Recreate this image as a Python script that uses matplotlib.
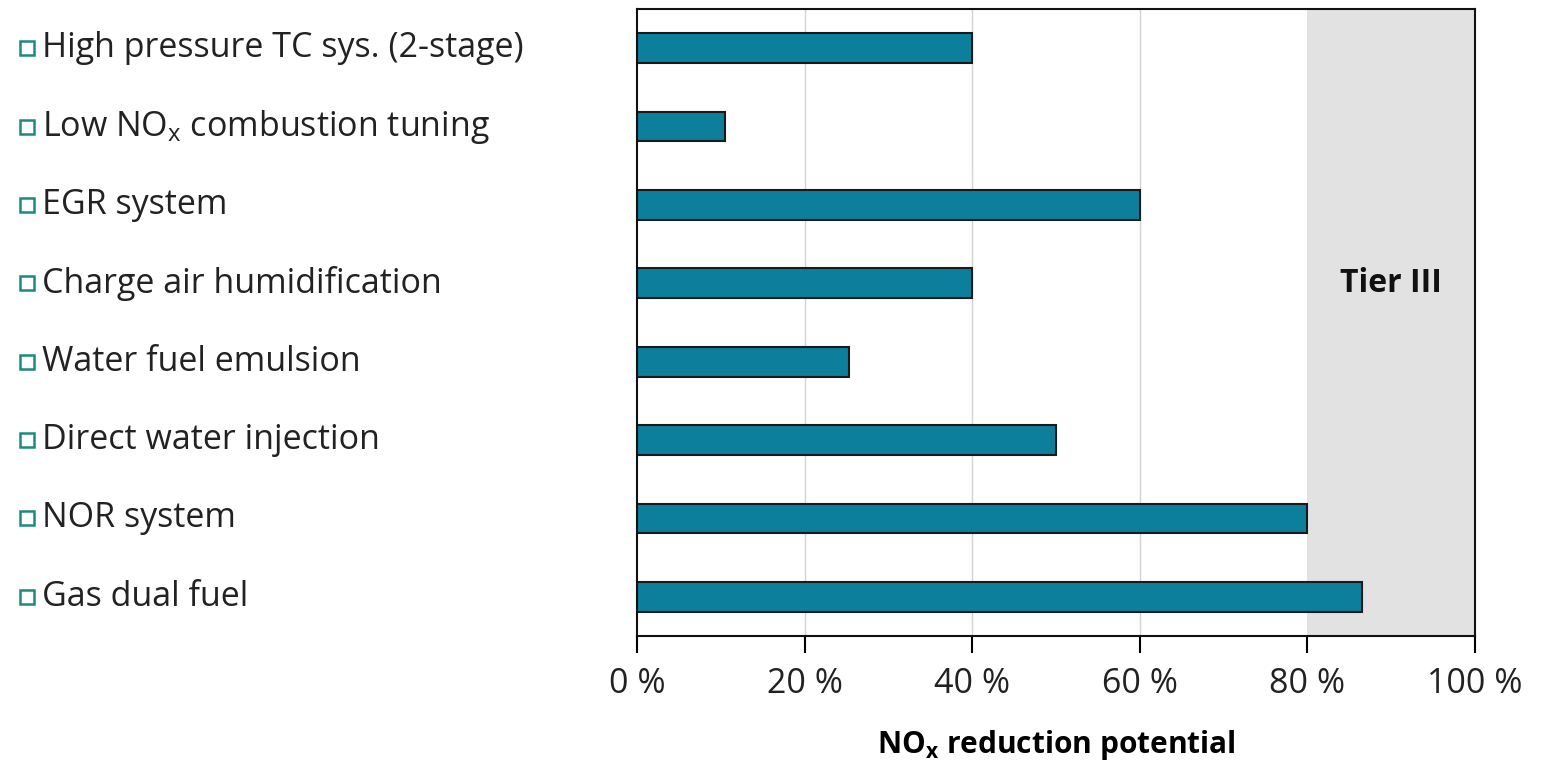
import matplotlib
matplotlib.use("Agg")
import matplotlib.pyplot as plt
import matplotlib.transforms as mtransforms

plt.rcParams["font.family"] = ["Open Sans", "DejaVu Sans"]

# --- data ---------------------------------------------------------------
measures = [
    "High pressure TC sys. (2-stage)",
    "Low NO$_\\mathregular{x}$ combustion tuning",
    "EGR system",
    "Charge air humidification",
    "Water fuel emulsion",
    "Direct water injection",
    "NOR system",
    "Gas dual fuel",
]
reduction_pct = [40, 10.5, 60, 40, 25.3, 50, 80, 86.5]
x_ticks = [0, 20, 40, 60, 80, 100]
x_tick_labels = ["0 %", "20 %", "40 %", "60 %", "80 %", "100 %"]
tier3_range = (80, 100)

BAR = "#0b7f9c"
MARK = "#1a8a7a"

fig = plt.figure(figsize=(15.45, 7.7), dpi=100)
ax = fig.add_axes([0.4123, 0.174, 0.5424, 0.8143])

ypos = list(range(len(measures)))
ax.axvspan(*tier3_range, color="#e2e2e2", zorder=0, lw=0)
for t in x_ticks[1:4]:
    ax.axvline(t, color="#d4d4d4", lw=1, zorder=0.5)
ax.barh(ypos, reduction_pct, height=0.38, color=BAR, edgecolor="#1a1a1a",
        linewidth=1.5, zorder=2)

ax.set_xlim(0, 100)
ax.set_ylim(len(measures) - 0.5, -0.5)
ax.set_yticks([])
ax.set_xticks(x_ticks)
ax.set_xticklabels(x_tick_labels, fontsize=24.5, color="#222222")
ax.tick_params(axis="x", length=12, width=1.5, pad=10, direction="out")
for s in ax.spines.values():
    s.set_linewidth(1.5)
    s.set_color("#111111")

ax.set_xlabel("NO$_\\mathregular{x}$ reduction potential", fontsize=21.5,
              fontweight="bold", labelpad=20)
ax.text(90, 3, "Tier III", fontsize=23, fontweight="bold", ha="center",
        va="center", color="#111111")

# category labels on the left with small open squares
trans = mtransforms.blended_transform_factory(fig.transFigure, ax.transData)
for y, name in zip(ypos, measures):
    ax.plot([0.0172], [y], marker="s", ms=10.5, mfc="none", mec=MARK, mew=1.8,
            transform=trans, clip_on=False)
    ax.text(0.027, y, name, transform=trans, fontsize=24.5, ha="left",
            va="center", color="#222222")

fig.savefig("out.png", dpi=100)
